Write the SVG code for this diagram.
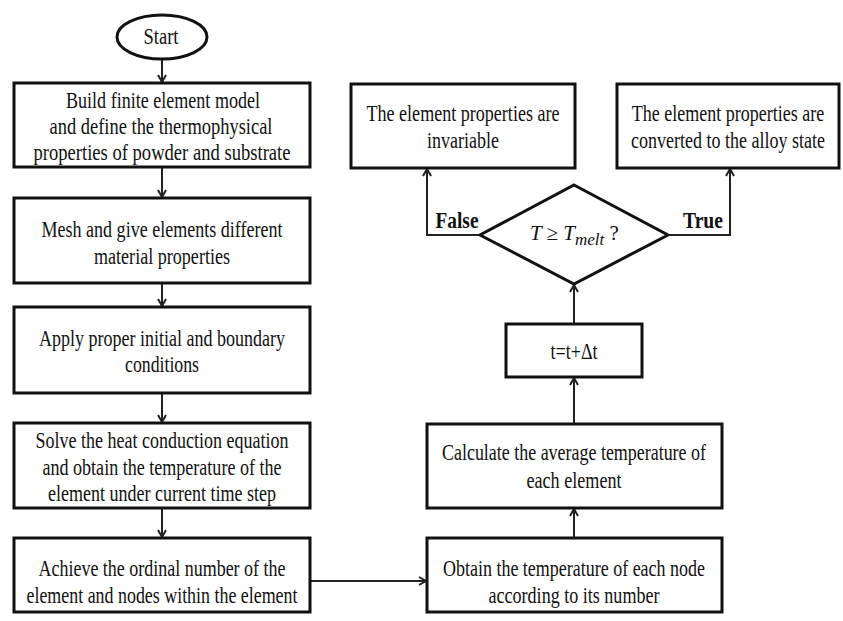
<svg xmlns="http://www.w3.org/2000/svg" width="843" height="621" viewBox="0 0 843 621">
<style>
.box{fill:#fff;stroke:#111;stroke-width:3}
.t{font-family:"Liberation Serif","Times New Roman",serif;font-size:24px;fill:#111;text-anchor:middle}
.b{font-weight:bold}
.c{fill:none;stroke:#222;stroke-width:2}
</style>
<defs>
<marker id="ah" markerWidth="10" markerHeight="10" refX="8" refY="5" orient="auto" markerUnits="userSpaceOnUse">
<path d="M1,1 L8,5 L1,9" fill="none" stroke="#222" stroke-width="2"/>
</marker>
</defs>
<rect width="843" height="621" fill="#fff"/>
<g id="connectors">
<line class="c" x1="162" y1="59" x2="162" y2="82" marker-end="url(#ah)"/>
<line class="c" x1="162" y1="168" x2="162" y2="197" marker-end="url(#ah)"/>
<line class="c" x1="162" y1="284" x2="162" y2="306" marker-end="url(#ah)"/>
<line class="c" x1="162" y1="394" x2="162" y2="422" marker-end="url(#ah)"/>
<line class="c" x1="162" y1="509" x2="162" y2="537" marker-end="url(#ah)"/>
<line class="c" x1="310" y1="581" x2="426" y2="581" marker-end="url(#ah)"/>
<line class="c" x1="574" y1="537" x2="574" y2="509" marker-end="url(#ah)"/>
<line class="c" x1="574" y1="423" x2="574" y2="378" marker-end="url(#ah)"/>
<line class="c" x1="574" y1="323" x2="574" y2="285" marker-end="url(#ah)"/>
<polyline class="c" points="480,235 427,235 427,169" marker-end="url(#ah)"/>
<polyline class="c" points="668,235 730,235 730,169" marker-end="url(#ah)"/>
<text class="t b" x="457" y="228" textLength="43" lengthAdjust="spacingAndGlyphs">False</text>
<text class="t b" x="703" y="228" textLength="40" lengthAdjust="spacingAndGlyphs">True</text>
</g>
<g id="start">
<ellipse cx="162" cy="37" rx="45" ry="22" fill="#fff" stroke="#111" stroke-width="3"/>
<text class="t" x="161" y="44" textLength="35" lengthAdjust="spacingAndGlyphs">Start</text>
</g>
<g id="build">
<rect class="box" x="14" y="83" width="296" height="84"/>
<text class="t" x="163" y="108" textLength="194" lengthAdjust="spacingAndGlyphs">Build finite element model</text>
<text class="t" x="161" y="134" textLength="223" lengthAdjust="spacingAndGlyphs">and define the thermophysical</text>
<text class="t" x="162" y="160" textLength="257" lengthAdjust="spacingAndGlyphs">properties of  powder and substrate</text>
</g>
<g id="mesh">
<rect class="box" x="14" y="198" width="296" height="85"/>
<text class="t" x="162" y="237" textLength="241" lengthAdjust="spacingAndGlyphs">Mesh and give elements different</text>
<text class="t" x="162" y="264" textLength="136" lengthAdjust="spacingAndGlyphs">material properties</text>
</g>
<g id="apply">
<rect class="box" x="14" y="307" width="296" height="86"/>
<text class="t" x="162" y="346" textLength="246" lengthAdjust="spacingAndGlyphs">Apply proper initial and boundary</text>
<text class="t" x="162" y="372" textLength="74" lengthAdjust="spacingAndGlyphs">conditions</text>
</g>
<g id="solve">
<rect class="box" x="14" y="423" width="296" height="85"/>
<text class="t" x="162" y="448" textLength="253" lengthAdjust="spacingAndGlyphs">Solve the heat conduction equation</text>
<text class="t" x="162" y="475" textLength="239" lengthAdjust="spacingAndGlyphs">and obtain the temperature of the</text>
<text class="t" x="162" y="501" textLength="228" lengthAdjust="spacingAndGlyphs">element under current time step</text>
</g>
<g id="achieve">
<rect class="box" x="14" y="538" width="296" height="74"/>
<text class="t" x="162" y="576" textLength="247" lengthAdjust="spacingAndGlyphs">Achieve the ordinal number of the</text>
<text class="t" x="162" y="603" textLength="271" lengthAdjust="spacingAndGlyphs">element and nodes within the element</text>
</g>
<g id="obtain">
<rect class="box" x="427" y="538" width="295" height="74"/>
<text class="t" x="574" y="576" textLength="262" lengthAdjust="spacingAndGlyphs">Obtain the temperature of each node</text>
<text class="t" x="574" y="603" textLength="171" lengthAdjust="spacingAndGlyphs">according to its number</text>
</g>
<g id="calculate">
<rect class="box" x="427" y="424" width="295" height="84"/>
<text class="t" x="574" y="460" textLength="264" lengthAdjust="spacingAndGlyphs">Calculate the average temperature of</text>
<text class="t" x="574" y="488" textLength="95" lengthAdjust="spacingAndGlyphs">each element</text>
</g>
<g id="step">
<rect class="box" x="506" y="324" width="136" height="53"/>
<text class="t" x="574" y="359" textLength="47" lengthAdjust="spacingAndGlyphs">t=t+Δt</text>
</g>
<g id="decision">
<polygon points="574,185 668,235 574,284 480,235" fill="#fff" stroke="#111" stroke-width="3"/>
<text class="t" x="530" y="240" style="text-anchor:start;font-style:italic;font-size:21px">T ≥ T<tspan font-size="17" dy="5">melt</tspan><tspan dy="-5" font-style="normal"> ?</tspan></text>
</g>
<g id="invariable">
<rect class="box" x="351" y="84" width="224" height="84"/>
<text class="t" x="463" y="121" textLength="193" lengthAdjust="spacingAndGlyphs">The element properties are</text>
<text class="t" x="463" y="148" textLength="72" lengthAdjust="spacingAndGlyphs">invariable</text>
</g>
<g id="alloy">
<rect class="box" x="617" y="84" width="222" height="84"/>
<text class="t" transform="matrix(0.75,0,0,1,728,0)" x="0" y="121">The element properties are</text>
<text class="t" transform="matrix(0.75,0,0,1,728,0)" x="0" y="148">converted to the alloy state</text>
</g>
</svg>
